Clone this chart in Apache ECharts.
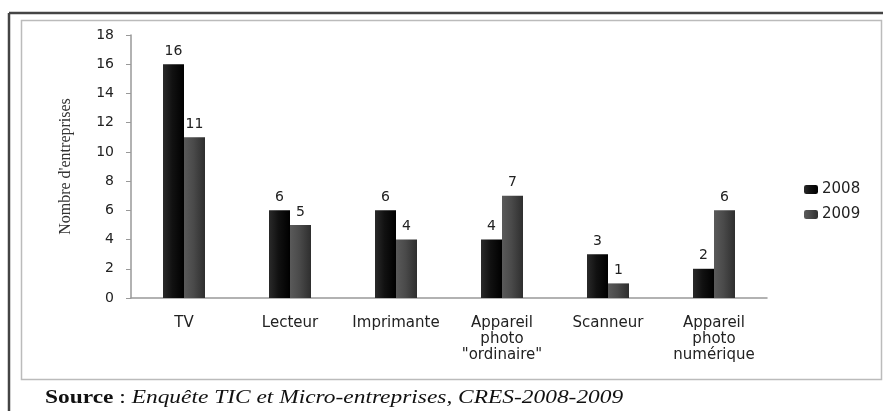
<!DOCTYPE html>
<html><head><meta charset="utf-8">
<script src="https://cdn.jsdelivr.net/npm/echarts@6/dist/echarts.min.js"></script>
<style>html,body{margin:0;padding:0;background:#fff}#c{width:883px;height:411px}</style>
</head><body><div id="c"></div>
<script>
const categories = ['TV', 'Lecteur', 'Imprimante', 'Appareil\nphoto\n"ordinaire"', 'Scanneur', 'Appareil\nphoto\nnumérique'];
const series2008 = [16, 6, 6, 4, 3, 2];
const series2009 = [11, 5, 4, 7, 1, 6];
const yTicks = {min: 0, max: 18, interval: 2};

const chart = echarts.init(document.getElementById('c'), null, {renderer: 'canvas'});
const grad = (a, b, c) => new echarts.graphic.LinearGradient(0, 0, 1, 0, [
  {offset: 0, color: a}, {offset: 0.45, color: b}, {offset: 1, color: c}]);
const F = 'DejaVu Sans';
const lbl = {show: true, position: 'top', distance: 6, fontFamily: F, fontSize: 14, color: '#222'};
chart.setOption({
  animation: false,
  backgroundColor: '#fff',
  grid: {left: 131, right: 116, top: 35, bottom: 113, containLabel: false},
  legend: {
    orient: 'vertical', left: 799, top: 177, itemWidth: 14, itemHeight: 9, itemGap: 10,
    textStyle: {fontFamily: F, fontSize: 15, color: '#222', padding: [0, 0, 0, -1]},
    data: ['2008', '2009']
  },
  xAxis: {
    type: 'category', data: categories,
    axisLine: {lineStyle: {color: '#999', width: 1.5}},
    axisTick: {show: false},
    axisLabel: {fontFamily: F, fontSize: 15, color: '#222', margin: 17, lineHeight: 16, interval: 0}
  },
  yAxis: {
    type: 'value', min: yTicks.min, max: yTicks.max, interval: yTicks.interval,
    name: "Nombre d'entreprises", nameLocation: 'middle', nameGap: 57,
    nameTextStyle: {fontFamily: 'Liberation Serif', fontSize: 16, color: '#333'},
    axisLine: {show: true, lineStyle: {color: '#999', width: 1.5}},
    axisTick: {show: true, length: 5, lineStyle: {color: '#999'}},
    splitLine: {show: false},
    axisLabel: {fontFamily: F, fontSize: 14, color: '#222', margin: 17}
  },
  series: [
    {name: '2008', type: 'bar', data: series2008, barWidth: 21, barGap: '0%',
     itemStyle: {color: grad('#2a2a2a', '#111', '#000')}, label: lbl},
    {name: '2009', type: 'bar', data: series2009, barWidth: 21,
     itemStyle: {color: grad('#5a5a5a', '#4a4a4a', '#2e2e2e')}, label: lbl}
  ],
  graphic: [
    {type: 'line', shape: {x1: 9, y1: 13, x2: 883, y2: 13}, style: {stroke: '#444', lineWidth: 2.5}},
    {type: 'line', shape: {x1: 9, y1: 13, x2: 9, y2: 411}, style: {stroke: '#444', lineWidth: 2.5}},
    {type: 'rect', shape: {x: 21.5, y: 20.5, width: 860, height: 359}, style: {fill: 'none', stroke: '#bbb', lineWidth: 1.5}},
    {type: 'text', x: 45, y: 389, scaleX: 1.3, style: {
      text: '{b|Source} : {i|Enquête TIC et Micro-entreprises, CRES-2008-2009}',
      rich: {
        b: {fontFamily: 'Liberation Serif', fontWeight: 'bold', fontSize: 18, fill: '#111'},
        i: {fontFamily: 'Liberation Serif', fontStyle: 'italic', fontSize: 18, fill: '#111'}
      },
      fontFamily: 'Liberation Serif', fontSize: 18, fill: '#111'}}
  ]
});
</script></body></html>
